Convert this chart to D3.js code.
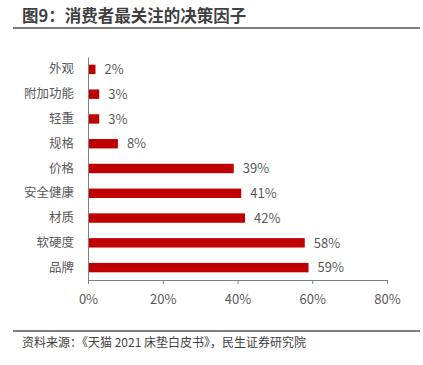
<!DOCTYPE html>
<html>
<head>
<meta charset="utf-8">
<script src="https://cdn.jsdelivr.net/npm/d3@7"></script>
<style>
  body { margin: 0; background: #fff; }
  svg { display: block; font-family: "Noto Sans CJK SC", "Noto Sans", sans-serif; }
</style>
</head>
<body>
<svg id="chart" width="423" height="365"></svg>
<script>
const categories = ['外观', '附加功能', '轻重', '规格', '价格', '安全健康', '材质', '软硬度', '品牌']
const values = [2, 3, 3, 8, 39, 41, 42, 58, 59]
const xTicks = [0, 20, 40, 60, 80]
const title = '图9：消费者最关注的决策因子'
const source = '资料来源：《天猫 2021 床垫白皮书》，民生证券研究院'

const svg = d3.select('#chart')
const margin = { top: 57, left: 88, right: 36, bottom: 85 }
const width = 423 - margin.left - margin.right
const height = 365 - margin.top - margin.bottom

// title + rule
svg.append('text')
  .attr('x', 22).attr('y', 22)
  .attr('font-size', '16.5px').attr('font-weight', 'bold').attr('fill', '#404040')
  .text(title)
svg.append('line')
  .attr('x1', 13).attr('x2', 420).attr('y1', 28).attr('y2', 28)
  .attr('stroke', '#555').attr('stroke-width', 1.5)

const xScale = d3.scaleLinear().domain([0, 80]).range([0, width])
const yScale = d3.scaleBand().domain(categories).range([0, height]).paddingInner(0.62).paddingOuter(0.31)

const g = svg.append('g').attr('transform', `translate(${margin.left}, ${margin.top})`)

g.selectAll('.bar')
  .data(values)
  .enter()
  .append('rect')
  .attr('class', 'bar')
  .attr('x', 0)
  .attr('y', (d, i) => yScale(categories[i]))
  .attr('width', (d) => xScale(d))
  .attr('height', yScale.bandwidth())
  .attr('fill', '#C00000')

g.selectAll('.label')
  .data(values)
  .enter()
  .append('text')
  .attr('class', 'label')
  .attr('x', (d) => xScale(d) + 9)
  .attr('y', (d, i) => yScale(categories[i]) + yScale.bandwidth() / 2)
  .attr('dy', '0.36em')
  .attr('font-size', '13px')
  .attr('fill', '#595959')
  .text((d) => d + '%')

const xAxis = g.append('g')
  .attr('transform', `translate(0, ${height})`)
  .call(d3.axisBottom(xScale).tickValues(xTicks).tickFormat((d) => d + '%').tickSize(4).tickPadding(11))
xAxis.select('.domain').attr('stroke', '#808080')
xAxis.selectAll('.tick line').attr('stroke', '#808080')
xAxis.selectAll('.tick text').attr('font-size', '13px').attr('fill', '#595959').attr('font-family', '"Noto Sans CJK SC", sans-serif')

const yAxis = g.append('g')
  .call(d3.axisLeft(yScale).tickSize(0).tickPadding(14))
yAxis.select('.domain').attr('stroke', '#808080')
yAxis.selectAll('.tick text').attr('font-size', '12.5px').attr('fill', '#595959').attr('font-family', '"Noto Sans CJK SC", sans-serif')

// source rule + text
svg.append('line')
  .attr('x1', 13).attr('x2', 420).attr('y1', 331).attr('y2', 331)
  .attr('stroke', '#555').attr('stroke-width', 1.5)
svg.append('text')
  .attr('x', 22).attr('y', 347)
  .attr('font-size', '12px').attr('fill', '#404040')
  .text(source)
</script>
</body>
</html>
